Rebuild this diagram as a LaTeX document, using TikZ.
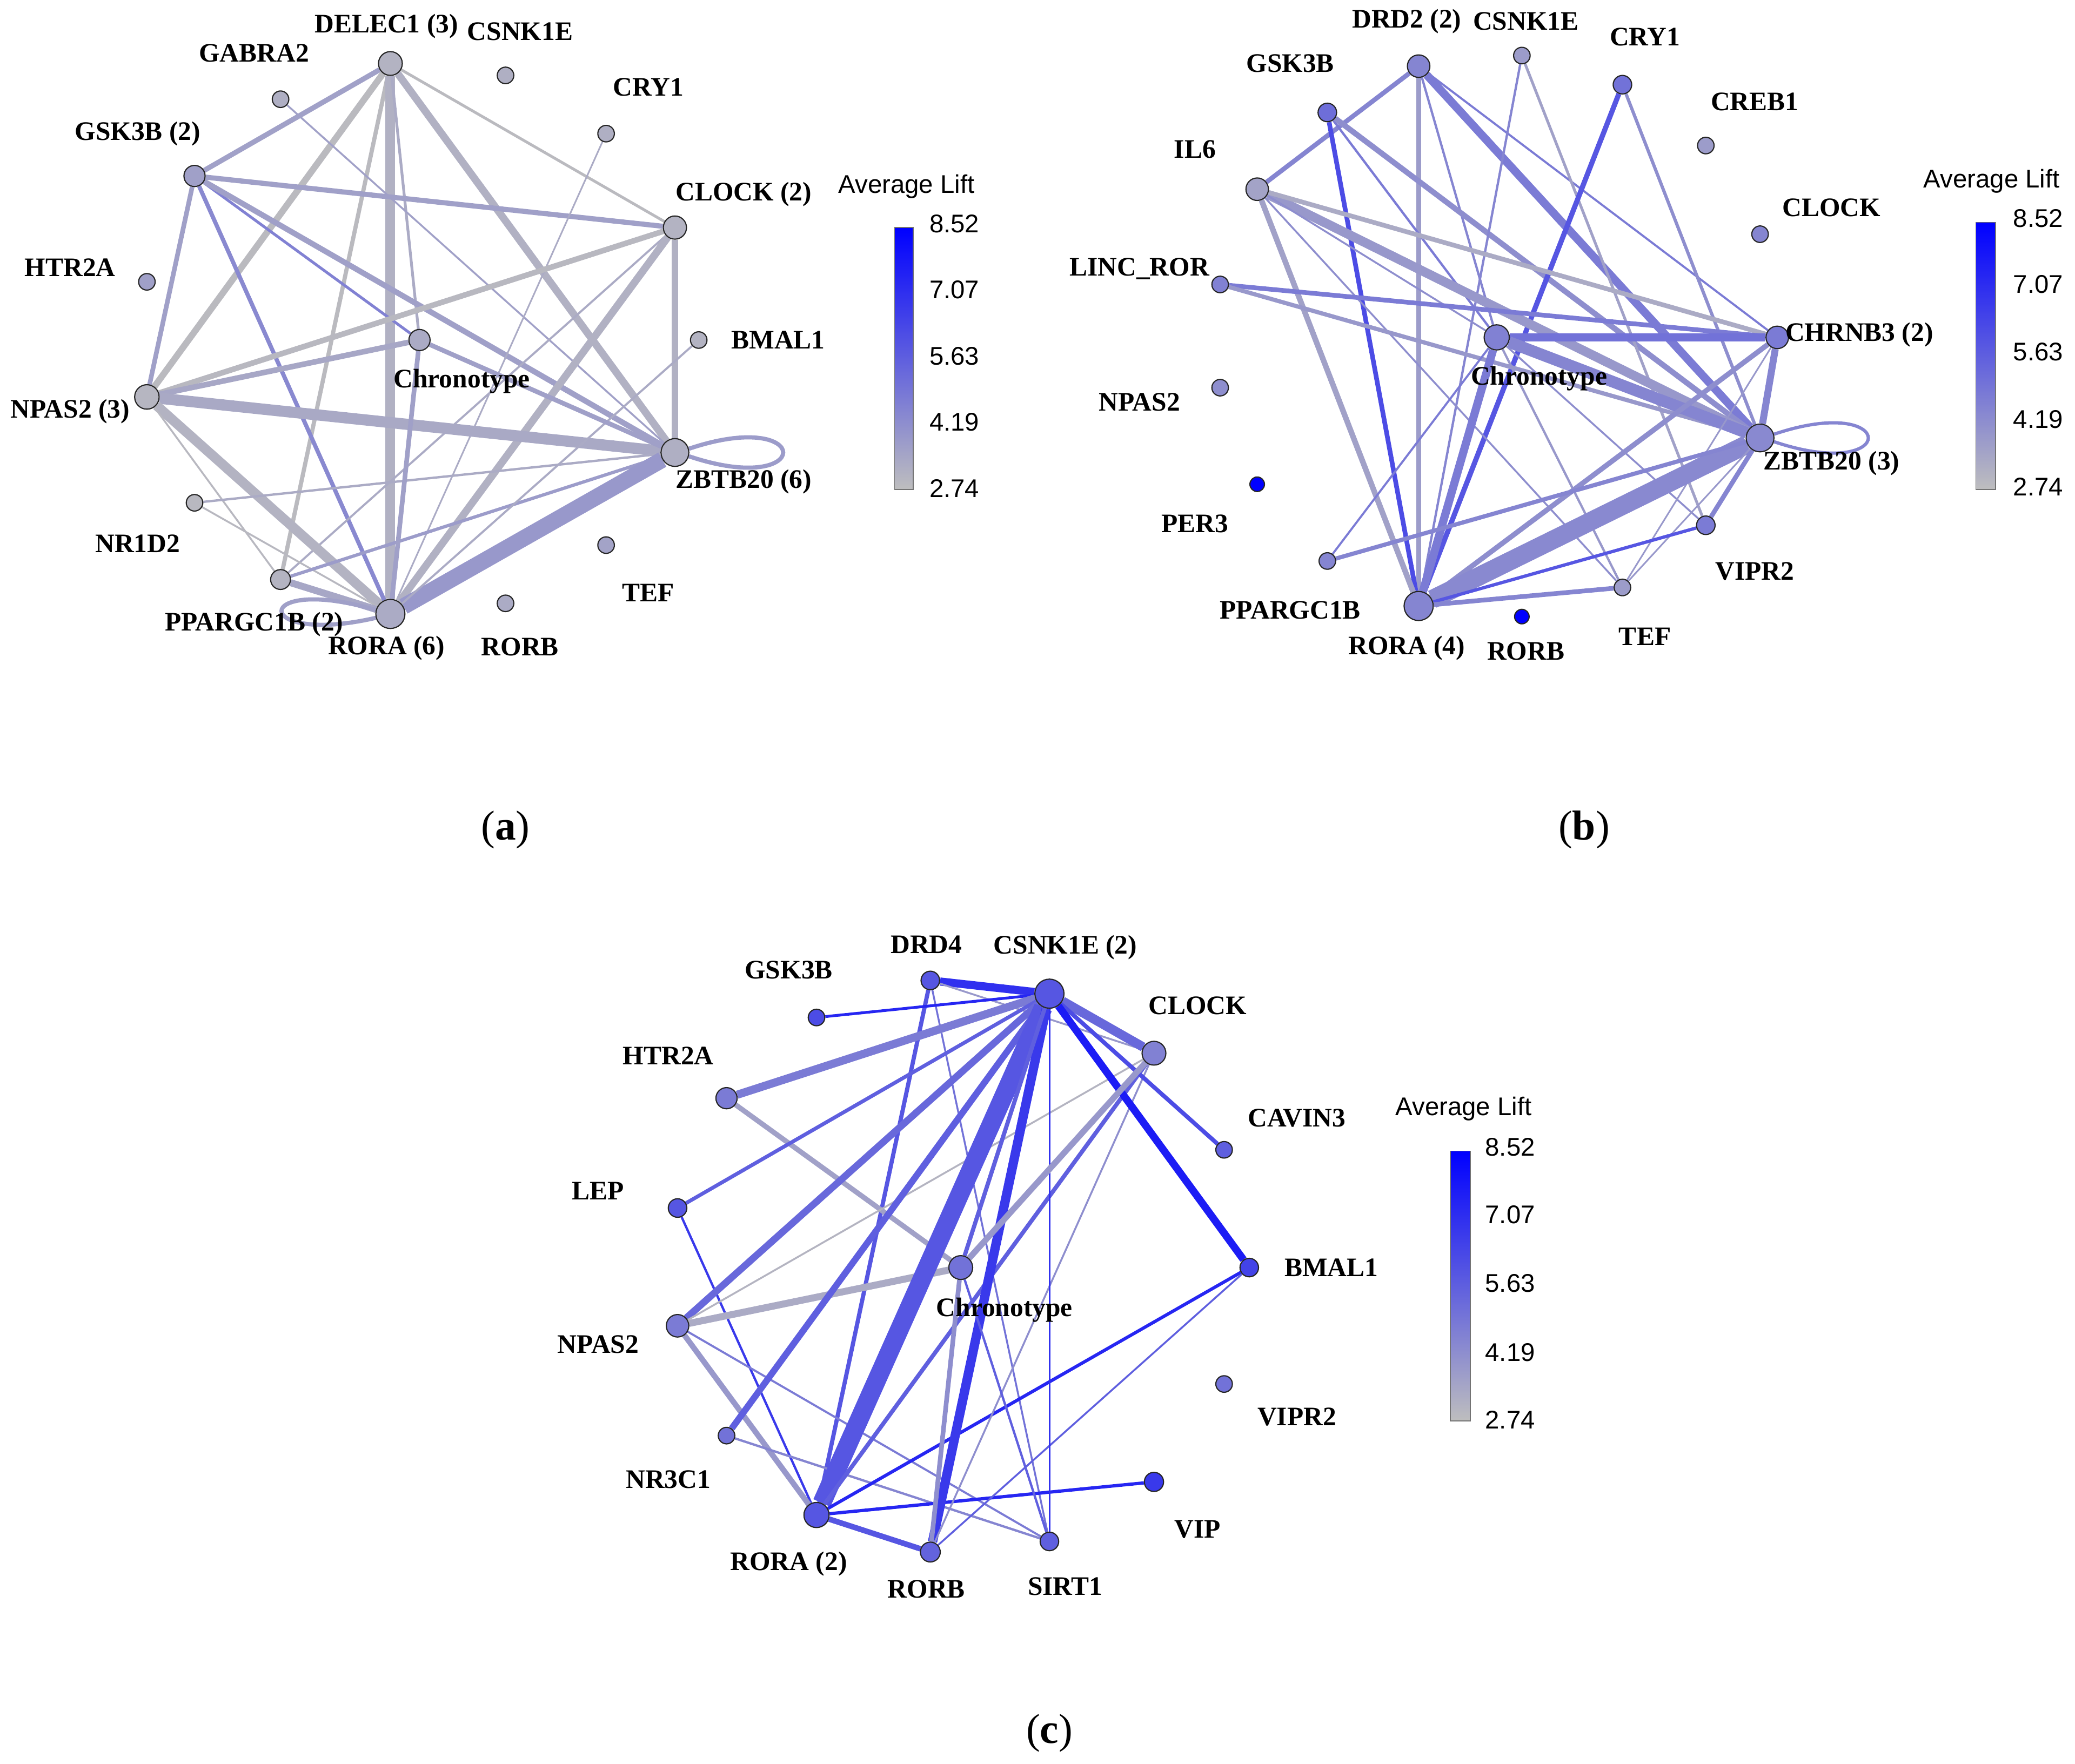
\documentclass[tikz,border=0pt]{standalone}
\usepackage{fontspec}
\setmainfont{Liberation Serif}
\setsansfont{Liberation Sans}
\usepackage{tikz}
\usetikzlibrary{arrows,positioning,calc}
\definecolor{lowc}{RGB}{190,190,190}
\definecolor{highc}{RGB}{0,0,255}
\tikzstyle{gene}=[draw=black!85,line width=0.5pt,circle,inner sep=0pt,minimum size=2.5mm]
\tikzstyle{glabel}=[font=\fontsize{11.5}{13}\selectfont\bfseries,inner sep=0pt]
\tikzstyle{ticklab}=[font=\sffamily\fontsize{11}{12}\selectfont,inner sep=0pt]
\tikzstyle{capt}=[font=\fontsize{18}{20}\selectfont,inner sep=0pt]
\pgfdeclarelayer{bg}
\pgfsetlayers{bg,main}

\begin{document}
\begin{tikzpicture}[x=0.2mm,y=-0.2mm]
\useasboundingbox (0,0) rectangle (1568,1333);

% (a)
\node[gene, minimum size=3.6mm, fill=highc!6!lowc] (aDEL) at (295,48) {};
\node[gene, fill=highc!8!lowc] (aCSN) at (382,57) {};
\node[gene, fill=highc!8!lowc] (aGAB) at (212,75) {};
\node[gene, fill=highc!8!lowc] (aCRY) at (458,101) {};
\node[gene, minimum size=3.2mm, fill=highc!16!lowc] (aGSK) at (147,133) {};
\node[gene, minimum size=3.5mm, fill=highc!6!lowc] (aCLO) at (510,172) {};
\node[gene, fill=highc!16!lowc] (aHTR) at (111,213) {};
\node[gene, minimum size=3.2mm, fill=highc!10!lowc] (aCHR) at (317,257) {};
\node[gene, fill=highc!6!lowc] (aBMA) at (528,257) {};
\node[gene, minimum size=3.7mm, fill=highc!4!lowc] (aNPA) at (111,300) {};
\node[gene, minimum size=4.2mm, fill=highc!8!lowc] (aZBT) at (510,342) {};
\node[gene, fill=highc!3!lowc] (aNRD) at (147,380) {};
\node[gene, fill=highc!14!lowc] (aTEF) at (458,412) {};
\node[gene, minimum size=3mm, fill=highc!5!lowc] (aPPA) at (212,438) {};
\node[gene, minimum size=4.4mm, fill=highc!10!lowc] (aROA) at (295,464) {};
\node[gene, fill=highc!10!lowc] (aROB) at (382,456) {};

\node[glabel] (aDELl) at (292,20) {DELEC1 (3)};
\node[glabel] (aCSNl) at (393,24) {CSNK1E};
\node[glabel] (aGABl) at (192,40) {GABRA2};
\node[glabel] (aCRYl) at (490,66) {CRY1};
\node[glabel] (aGSKl) at (104,101) {GSK3B (2)};
\node[glabel] (aCLOl) at (562,147) {CLOCK (2)};
\node[glabel] (aHTRl) at (53,202) {HTR2A};
\node[glabel] (aCHRl) at (349,288) {Chronotype};
\node[glabel] (aBMAl) at (588,257) {BMAL1};
\node[glabel] (aNPAl) at (53,311) {NPAS2 (3)};
\node[glabel] (aZBTl) at (562,364) {ZBTB20 (6)};
\node[glabel] (aNRDl) at (104,411) {NR1D2};
\node[glabel] (aTEFl) at (490,448) {TEF};
\node[glabel] (aPPAl) at (192,472) {PPARGC1B (2)};
\node[glabel] (aROAl) at (292,490) {RORA (6)};
\node[glabel] (aROBl) at (393,489) {RORB};

\begin{pgfonlayer}{bg}
\foreach \u/\v/\w/\c in {aDEL/aGSK/2.2/15, aDEL/aNPA/2.8/2, aDEL/aPPA/1.8/2, aDEL/aROA/4.2/7,
  aDEL/aCHR/1.2/10, aDEL/aZBT/3.2/7, aDEL/aCLO/1.2/2, aGAB/aZBT/0.8/15,
  aGSK/aCLO/2.2/16, aGSK/aNPA/2.0/16, aGSK/aROA/1.8/28, aGSK/aCHR/1.2/32, aGSK/aZBT/2.4/16,
  aCRY/aROA/0.7/10, aCLO/aNPA/2.4/3, aCLO/aPPA/0.9/10, aCLO/aZBT/2.8/7, aCLO/aROA/3.2/7,
  aNPA/aCHR/2.4/12, aNPA/aZBT/4.8/11, aNPA/aROA/4.2/6, aNPA/aPPA/0.8/3,
  aNRD/aZBT/1.0/10, aNRD/aROA/0.8/3, aPPA/aZBT/1.4/18, aPPA/aROA/3.0/12,
  aROA/aZBT/7/20, aBMA/aROA/0.9/10, aCHR/aZBT/2.0/16, aCHR/aROA/2.0/16}
  \draw[line width=\w pt, draw=highc!\c!lowc] (\u) -- (\v);
\draw[line width=1.8pt, draw=highc!18!lowc] (aZBT.15) .. controls +(95,-32) and +(95,32) .. (aZBT.-15);
\draw[line width=1.8pt, draw=highc!16!lowc] (aROA.165) .. controls +(-95,-28) and +(-95,22) .. (aROA.195);
\end{pgfonlayer}

\node[ticklab] (aTitle) at (685,141) {Average Lift};
\shade[top color=highc, bottom color=lowc] (676,172) rectangle (690,370);
\draw[black!55, line width=0.4pt] (676,172) rectangle (690,370);
\foreach \t/\y in {8.52/169, 7.07/219, 5.63/269, 4.19/319, 2.74/369}
  \node[ticklab, anchor=west] at (702,\y) {\t};
\node[capt] (aCap) at (382,627) {(\textbf{a})};

% (b)
\node[gene, minimum size=3.4mm, fill=highc!30!lowc] (bDRD) at (1072,50) {};
\node[gene, fill=highc!18!lowc] (bCSN) at (1150,42) {};
\node[gene, minimum size=2.8mm, fill=highc!40!lowc] (bCRY) at (1226,64) {};
\node[gene, minimum size=2.8mm, fill=highc!42!lowc] (bGSK) at (1003,85) {};
\node[gene, fill=highc!18!lowc] (bCRE) at (1289,110) {};
\node[gene, minimum size=3.4mm, fill=highc!14!lowc] (bIL6) at (950,143) {};
\node[gene, fill=highc!30!lowc] (bCLO) at (1330,177) {};
\node[gene, fill=highc!32!lowc] (bLIN) at (922,215) {};
\node[gene, minimum size=3.8mm, fill=highc!32!lowc] (bCHR) at (1131,255) {};
\node[gene, minimum size=3.4mm, fill=highc!35!lowc] (bCHN) at (1343,255) {};
\node[gene, fill=highc!25!lowc] (bNPA) at (922,293) {};
\node[gene, minimum size=4.2mm, fill=highc!28!lowc] (bZBT) at (1330,331) {};
\node[gene, minimum size=2.2mm, fill=highc] (bPER) at (950,366) {};
\node[gene, minimum size=2.8mm, fill=highc!35!lowc] (bVIP) at (1289,397) {};
\node[gene, fill=highc!30!lowc] (bPPA) at (1003,424) {};
\node[gene, fill=highc!18!lowc] (bTEF) at (1226,444) {};
\node[gene, minimum size=4.4mm, fill=highc!30!lowc] (bROA) at (1072,458) {};
\node[gene, minimum size=2.2mm, fill=highc] (bROB) at (1150,466) {};

\node[glabel] (bDRDl) at (1063,16) {DRD2 (2)};
\node[glabel] (bCSNl) at (1153,16) {CSNK1E};
\node[glabel] (bCRYl) at (1243,28) {CRY1};
\node[glabel] (bGSKl) at (975,48) {GSK3B};
\node[glabel] (bCREl) at (1326,77) {CREB1};
\node[glabel] (bIL6l) at (903,113) {IL6};
\node[glabel] (bCLOl) at (1384,157) {CLOCK};
\node[glabel] (bLINl) at (861,203) {LINC\_ROR};
\node[glabel] (bCHRl) at (1163,286) {Chronotype};
\node[glabel] (bCHNl) at (1405,253) {CHRNB3 (2)};
\node[glabel] (bNPAl) at (861,304) {NPAS2};
\node[glabel] (bZBTl) at (1384,350) {ZBTB20 (3)};
\node[glabel] (bPERl) at (903,396) {PER3};
\node[glabel] (bVIPl) at (1326,432) {VIPR2};
\node[glabel] (bPPAl) at (975,461) {PPARGC1B};
\node[glabel] (bTEFl) at (1243,481) {TEF};
\node[glabel] (bROAl) at (1063,490) {RORA (4)};
\node[glabel] (bROBl) at (1153,492) {RORB};

\begin{pgfonlayer}{bg}
\foreach \u/\v/\w/\c in {bDRD/bIL6/2.0/30, bDRD/bROA/2.0/18, bDRD/bCHR/1.0/30, bDRD/bZBT/3.5/35,
  bDRD/bCHN/0.9/35, bGSK/bROA/2.0/60, bGSK/bCHR/1.0/35, bGSK/bZBT/2.4/25,
  bCSN/bROA/1.0/30, bCSN/bVIP/1.2/15, bCRY/bROA/2.2/55, bCRY/bZBT/1.4/25,
  bIL6/bZBT/4.0/20, bIL6/bCHN/2.0/10, bIL6/bROA/2.4/15, bIL6/bCHR/0.8/25, bIL6/bTEF/0.8/25,
  bLIN/bCHN/2.0/35, bLIN/bZBT/1.8/20, bCHR/bCHN/3.5/40, bCHR/bZBT/5.0/30, bCHR/bROA/3.5/35,
  bCHR/bTEF/1.0/20, bCHR/bVIP/0.8/25, bCHR/bPPA/0.9/35, bCHN/bZBT/3.0/30, bCHN/bROA/2.2/25,
  bCHN/bTEF/0.7/20, bZBT/bROA/8.0/28, bZBT/bPPA/1.8/30, bZBT/bVIP/2.0/30, bZBT/bTEF/0.7/20,
  bVIP/bROA/1.4/55, bTEF/bROA/2.0/30}
  \draw[line width=\w pt, draw=highc!\c!lowc] (\u) -- (\v);
\draw[line width=1.4pt, draw=highc!30!lowc] (bZBT.15) .. controls +(95,-32) and +(95,32) .. (bZBT.-15);
\end{pgfonlayer}

\node[ticklab] (bTitle) at (1505,137) {Average Lift};
\shade[top color=highc, bottom color=lowc] (1493,168) rectangle (1508,370);
\draw[black!55, line width=0.4pt] (1493,168) rectangle (1508,370);
\foreach \t/\y in {8.52/165, 7.07/215, 5.63/266, 4.19/317, 2.74/368}
  \node[ticklab, anchor=west] at (1521,\y) {\t};
\node[capt] (bCap) at (1197,627) {(\textbf{b})};

% (c)
\node[gene, minimum size=2.8mm, fill=highc!55!lowc] (cDRD) at (703,741) {};
\node[gene, minimum size=4.4mm, fill=highc!55!lowc] (cCSN) at (793,751) {};
\node[gene, fill=highc!60!lowc] (cGSK) at (617,769) {};
\node[gene, minimum size=3.6mm, fill=highc!32!lowc] (cCLO) at (872,796) {};
\node[gene, minimum size=3.2mm, fill=highc!35!lowc] (cHTR) at (549,830) {};
\node[gene, fill=highc!50!lowc] (cCAV) at (925,869) {};
\node[gene, minimum size=2.8mm, fill=highc!55!lowc] (cLEP) at (512,913) {};
\node[gene, minimum size=3.6mm, fill=highc!40!lowc] (cCHR) at (726,958) {};
\node[gene, minimum size=2.8mm, fill=highc!65!lowc] (cBMA) at (944,958) {};
\node[gene, minimum size=3.4mm, fill=highc!35!lowc] (cNPA) at (512,1002) {};
\node[gene, fill=highc!40!lowc] (cVPR) at (925,1046) {};
\node[gene, fill=highc!40!lowc] (cNR3) at (549,1085) {};
\node[gene, minimum size=2.9mm, fill=highc!70!lowc] (cVIP) at (872,1120) {};
\node[gene, minimum size=3.8mm, fill=highc!55!lowc] (cROA) at (617,1145) {};
\node[gene, minimum size=3mm, fill=highc!48!lowc] (cROB) at (703,1173) {};
\node[gene, minimum size=2.8mm, fill=highc!50!lowc] (cSIR) at (793,1165) {};

\node[glabel] (cDRDl) at (700,714) {DRD4};
\node[glabel] (cCSNl) at (805,716) {CSNK1E (2)};
\node[glabel] (cGSKl) at (596,733) {GSK3B};
\node[glabel] (cCLOl) at (905,760) {CLOCK};
\node[glabel] (cHTRl) at (505,798) {HTR2A};
\node[glabel] (cCAVl) at (980,845) {CAVIN3};
\node[glabel] (cLEPl) at (452,900) {LEP};
\node[glabel] (cCHRl) at (759,990) {Chronotype};
\node[glabel] (cBMAl) at (1006,958) {BMAL1};
\node[glabel] (cNPAl) at (452,1016) {NPAS2};
\node[glabel] (cVPRl) at (980,1071) {VIPR2};
\node[glabel] (cNR3l) at (505,1118) {NR3C1};
\node[glabel] (cVIPl) at (905,1156) {VIP};
\node[glabel] (cROAl) at (596,1182) {RORA (2)};
\node[glabel] (cROBl) at (700,1201) {RORB};
\node[glabel] (cSIRl) at (805,1199) {SIRT1};

\begin{pgfonlayer}{bg}
\foreach \u/\v/\w/\c in {cDRD/cCSN/3.5/75, cDRD/cROA/1.8/55, cDRD/cSIR/0.8/40, cDRD/cCLO/0.8/20,
  cGSK/cCSN/1.2/80, cHTR/cCSN/3.5/35, cHTR/cCHR/2.2/15, cLEP/cCSN/1.6/50, cLEP/cROA/1.0/70,
  cNPA/cCSN/3.0/45, cNPA/cCHR/3.0/10, cNPA/cCLO/0.8/5, cNPA/cROA/2.4/20, cNPA/cSIR/0.9/35,
  cNR3/cCSN/2.8/50, cNR3/cSIR/1.0/30, cROA/cCSN/8/55, cROA/cROB/2.4/55, cROA/cBMA/1.4/80,
  cROA/cVIP/1.4/80, cROA/cCLO/1.8/50, cROB/cCSN/4/70, cROB/cCHR/2.0/25, cROB/cCLO/0.8/25,
  cROB/cBMA/0.8/50, cSIR/cCSN/0.7/75, cSIR/cCHR/1.0/50, cCSN/cCLO/4/45, cCSN/cCAV/1.8/60,
  cCSN/cBMA/3.2/85, cCSN/cCHR/1.8/50, cCLO/cCHR/2.6/20}
  \draw[line width=\w pt, draw=highc!\c!lowc] (\u) -- (\v);
\end{pgfonlayer}

\node[ticklab] (cTitle) at (1106,838) {Average Lift};
\shade[top color=highc, bottom color=lowc] (1096,870) rectangle (1111,1074);
\draw[black!55, line width=0.4pt] (1096,870) rectangle (1111,1074);
\foreach \t/\y in {8.52/867, 7.07/918, 5.63/970, 4.19/1022, 2.74/1073}
  \node[ticklab, anchor=west] at (1122,\y) {\t};
\node[capt] (cCap) at (793,1310) {(\textbf{c})};
\end{tikzpicture}
\end{document}
